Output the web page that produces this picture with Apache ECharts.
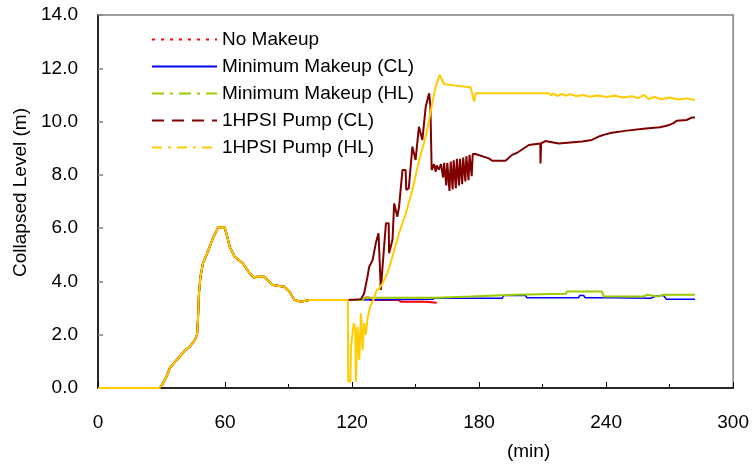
<!DOCTYPE html>
<html>
<head>
<meta charset="utf-8">
<script src="https://cdn.jsdelivr.net/npm/echarts@6/dist/echarts.min.js"></script>
<style>
  html, body { margin: 0; padding: 0; background: #fff; }
  #chart { width: 752px; height: 468px; }
</style>
</head>
<body>
<div id="chart"></div>
<script>
// shared part of every run before the pumps / makeup differ (min, m)
const commonPart = [
  [0, 0], [29, 0], [30.5, 0.15], [32.3, 0.42], [33.9, 0.75], [36, 0.95], [38.6, 1.18],
  [41, 1.4], [43.3, 1.55], [45.7, 1.8], [46.8, 2.0], [47.2, 2.55], [47.7, 3.56],
  [48.4, 4.18], [49.6, 4.69], [51.9, 5.12], [54.3, 5.63], [56.7, 6.03], [59.8, 6.03],
  [61, 5.7], [62.2, 5.3], [64.5, 4.93], [68.4, 4.68], [71.6, 4.31], [73.9, 4.12],
  [75, 4.18], [78.6, 4.18], [80, 4.05], [82.6, 3.87], [88.1, 3.8], [90.4, 3.62],
  [92.8, 3.3], [95.9, 3.24], [99.8, 3.3], [118, 3.3]
];

const noMakeup = [
  [125, 3.3], [126.5, 3.4], [128, 3.4], [128.5, 3.3], [142, 3.3], [143, 3.24],
  [154.8, 3.24], [155, 3.2], [160, 3.2]
];

const minMakeupCL = [
  [158, 3.33], [159, 3.37], [191, 3.37], [191.5, 3.47], [202, 3.47], [202.5, 3.39],
  [227, 3.39], [227.5, 3.47], [229.5, 3.47], [230, 3.39], [243, 3.39], [243.5, 3.37],
  [261, 3.37], [261.5, 3.43], [263, 3.43], [263.5, 3.48], [267, 3.48], [268.5, 3.33],
  [282, 3.33]
];

const minMakeupHL = [
  [125, 3.3], [126, 3.39], [160, 3.39], [160.5, 3.43], [176, 3.43], [176.5, 3.5],
  [197, 3.5], [197.5, 3.54], [221, 3.54], [221.5, 3.62], [238, 3.62], [239, 3.43],
  [257.5, 3.43], [258, 3.5], [259.5, 3.5], [260, 3.43], [264.5, 3.43], [265, 3.5],
  [267, 3.5], [267.5, 3.43], [268, 3.5], [282, 3.5]
];

const hpsiCL = [
  [124.2, 3.33], [125.7, 3.55], [127.3, 4.18], [128.1, 4.55], [129.7, 4.8], [131.2, 5.43],
  [132.5, 5.81], [133.2, 5.81], [133.6, 3.68], [134.4, 4.55], [136, 6.18], [137.3, 6.18],
  [137.5, 5.06], [139.1, 5.56], [139.9, 6.93], [141.4, 6.43], [142.2, 6.8], [143.8, 8.18],
  [145.3, 8.18], [145.6, 7.43], [146.8, 7.5], [148.5, 9.06], [150, 8.56], [151.6, 9.81],
  [153.2, 9.31], [154.8, 10.56], [156.4, 11.06], [157, 10.6], [157.6, 8.18], [158.7, 8.4],
  [159.5, 8.12], [160, 8.35], [161, 8.2], [162, 8.4], [163, 7.9], [163.5, 8.45],
  [164.5, 7.6], [165, 8.45], [166, 7.4], [166.6, 8.5], [167.5, 7.45], [168, 8.55],
  [169, 7.5], [169.5, 8.6], [170.5, 7.6], [171, 8.6], [172, 7.65], [172.5, 8.65],
  [173.5, 7.75], [174, 8.7], [175, 7.8], [175.5, 8.75], [176.5, 7.95], [177, 8.78],
  [178.3, 8.78], [184.6, 8.62], [186.2, 8.53], [192.5, 8.53], [195.6, 8.75], [198, 8.83],
  [203.5, 9.12], [208.9, 9.18], [209, 8.43], [209.3, 9.18], [211.3, 9.27], [217.6, 9.18],
  [228.6, 9.25], [233.3, 9.31], [237.2, 9.46], [239.6, 9.52], [242.7, 9.58], [249.8, 9.66],
  [257.6, 9.73], [265.5, 9.79], [269.4, 9.86], [271.8, 9.94], [273.3, 10.03], [278, 10.06],
  [280.4, 10.15], [282, 10.15]
];

const hpsiHL = [
  [118.2, 0.24], [119.2, 0.24], [119.5, 1.55], [120.8, 2.44], [121.5, 2.2], [121.8, 0.24],
  [122.3, 0.24], [122.6, 2.3], [123.4, 1.05], [124.2, 2.8], [125, 1.43], [125.7, 2.44],
  [126.5, 2.0], [127.3, 2.6], [128.5, 3.05], [130, 3.3], [131.7, 3.68], [133, 3.75],
  [134.4, 3.93], [136.7, 4.31], [139.1, 4.93], [142.2, 5.81], [145.4, 6.56], [148.5, 7.43],
  [151.7, 8.56], [154.8, 9.43], [156.4, 10.06], [157.9, 10.69], [159.5, 11.31], [161.4, 11.75],
  [162.2, 11.75], [163.4, 11.41], [169.7, 11.34], [176, 11.29], [177.6, 10.75], [178.4, 11.06],
  [212.9, 11.06], [214, 10.98], [215, 11.05], [217, 10.96], [219, 11.04], [221, 10.97],
  [223, 11.03], [226, 10.95], [229, 11.0], [232, 10.93], [236, 10.98], [240, 10.92],
  [244, 10.97], [248, 10.9], [252, 10.95], [255, 10.88], [258, 11.0], [260, 10.85],
  [263, 10.92], [266, 10.84], [270, 10.9], [274, 10.83], [278, 10.87], [282, 10.81]
];

const xTicks = [0, 60, 120, 180, 240, 300];
const yTicks = [0, 2, 4, 6, 8, 10, 12, 14];

const names = ['No Makeup', 'Minimum Makeup (CL)', 'Minimum Makeup (HL)', '1HPSI Pump (CL)', '1HPSI Pump (HL)'];
const colors = ['#ff0000', '#0000ff', '#99cc00', '#800000', '#ffcc00'];
const legendDash = [[3, 6], 'solid', [12, 6, 3, 6], [12, 8], [10, 6, 3, 6]];
const runs = [noMakeup, minMakeupCL, minMakeupHL, hpsiCL, hpsiHL];

const FONT = 'Liberation Sans, Arial, sans-serif';

const chart = echarts.init(document.getElementById('chart'));

chart.setOption({
  animation: false,
  backgroundColor: '#fff',
  textStyle: { fontFamily: FONT },
  grid: {
    left: 98, right: 17, top: 15, bottom: 80,
    show: true, borderColor: '#808080', borderWidth: 1.5
  },
  legend: {
    orient: 'vertical',
    left: 146, top: 25,
    itemWidth: 65, itemHeight: 14, itemGap: 8,
    textStyle: { fontFamily: FONT, fontSize: 19, color: '#000' },
    data: names.map((n, i) => ({
      name: n,
      itemStyle: { opacity: 0 },
      lineStyle: { color: colors[i], width: 2, type: legendDash[i] }
    }))
  },
  xAxis: {
    type: 'value', min: 0, max: 300, interval: 60,
    name: '(min)', nameLocation: 'middle', nameGap: 54,
    nameTextStyle: { fontFamily: FONT, fontSize: 19, color: '#000', padding: [0, 0, 0, 226] },
    axisLine: { lineStyle: { color: '#000', width: 1.5 } },
    axisTick: { inside: true, length: 6, lineStyle: { color: '#000' } },
    minorTick: { show: true, splitNumber: 2, length: 4, lineStyle: { color: '#000' } },
    splitLine: { show: false },
    axisLabel: {
      margin: 25, fontSize: 19, color: '#000', fontFamily: FONT,
      formatter: v => xTicks.includes(v) ? String(v) : ''
    }
  },
  yAxis: {
    type: 'value', min: 0, max: 14, interval: 2,
    name: 'Collapsed Level (m)', nameLocation: 'middle', nameGap: 66,
    nameTextStyle: { fontFamily: FONT, fontSize: 19, color: '#000', padding: [0, 0, 0, 18] },
    axisLine: { lineStyle: { color: '#000', width: 1.5 } },
    axisTick: { inside: true, length: 5, lineStyle: { color: '#808080', width: 1.5 } },
    splitLine: { show: false },
    axisLabel: {
      margin: 20, fontSize: 19, color: '#000', fontFamily: FONT,
      formatter: v => yTicks.includes(v) ? v.toFixed(1) : ''
    }
  },
  series: runs.map((r, i) => ({
    name: names[i],
    type: 'line',
    showSymbol: false,
    symbol: 'none',
    data: commonPart.concat(r),
    lineStyle: { color: colors[i], width: i === 1 ? 1.5 : 2 },
    itemStyle: { color: colors[i] },
    z: 2 + i
  }))
});
</script>
</body>
</html>
